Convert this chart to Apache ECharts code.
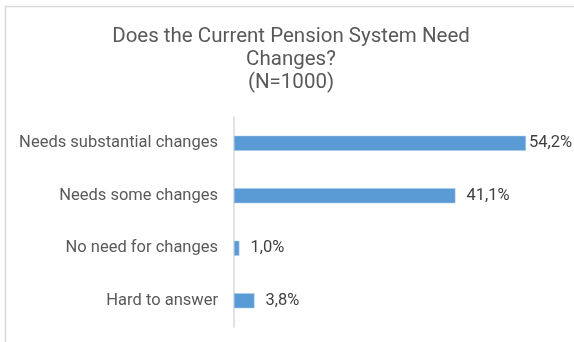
<!DOCTYPE html>
<html>
<head>
<meta charset="utf-8">
<style>
  html, body { margin: 0; padding: 0; background: #ffffff; }
  #chart { width: 574px; height: 342px; }
</style>
<script src="https://cdn.jsdelivr.net/npm/echarts@6/dist/echarts.min.js"></script>
</head>
<body>
<div id="chart"></div>
<script>
// Survey answers, top to bottom
const categories = [
  'Needs substantial changes',
  'Needs some changes',
  'No need for changes',
  'Hard to answer'
];
const shares = [54.2, 41.1, 1.0, 3.8];
// Label gap after each bar end (the longest bar keeps its label tight)
const labelGaps = [3, 11, 11, 11];

const chart = echarts.init(document.getElementById('chart'), null, { renderer: 'canvas' });

const fmt = v => v.toFixed(1).replace('.', ',') + '%';
const FONT = 'Roboto, "Noto Sans", sans-serif';

chart.setOption({
  animation: false,
  backgroundColor: '#ffffff',
  textStyle: { fontFamily: FONT },
  title: {
    text: 'Does the Current Pension System Need\nChanges?\n(N=1000)',
    left: 286,
    top: 20,
    textAlign: 'center',
    textStyle: {
      fontFamily: FONT,
      fontSize: 20.5,
      fontWeight: 'normal',
      color: '#595959',
      lineHeight: 23
    }
  },
  graphic: [{
    type: 'rect',
    shape: { x: 5.5, y: 6.5, width: 600, height: 400 },
    style: { fill: 'none', stroke: '#d9d9d9', lineWidth: 1.5 },
    silent: true
  }],
  grid: { left: 234, top: 117, width: 323.2, height: 210, containLabel: false },
  xAxis: {
    type: 'value',
    min: 0,
    max: 60,
    show: false
  },
  yAxis: {
    type: 'category',
    data: categories,
    inverse: true,
    axisLine: { show: true, lineStyle: { color: '#d9d9d9', width: 1.5 } },
    axisTick: { show: false },
    axisLabel: {
      margin: 16,
      fontSize: 16.5,
      color: '#595959',
      fontFamily: FONT
    }
  },
  series: [{
    type: 'bar',
    barWidth: 15,
    data: shares.map((v, i) => ({
      value: v,
      label: { distance: labelGaps[i] }
    })),
    itemStyle: { color: '#5b9bd5', borderColor: '#a9c8ea', borderWidth: 0.5 },
    label: {
      show: true,
      position: 'right',
      fontSize: 16.5,
      color: '#404040',
      fontFamily: FONT,
      formatter: p => fmt(p.value)
    }
  }]
});
</script>
</body>
</html>
